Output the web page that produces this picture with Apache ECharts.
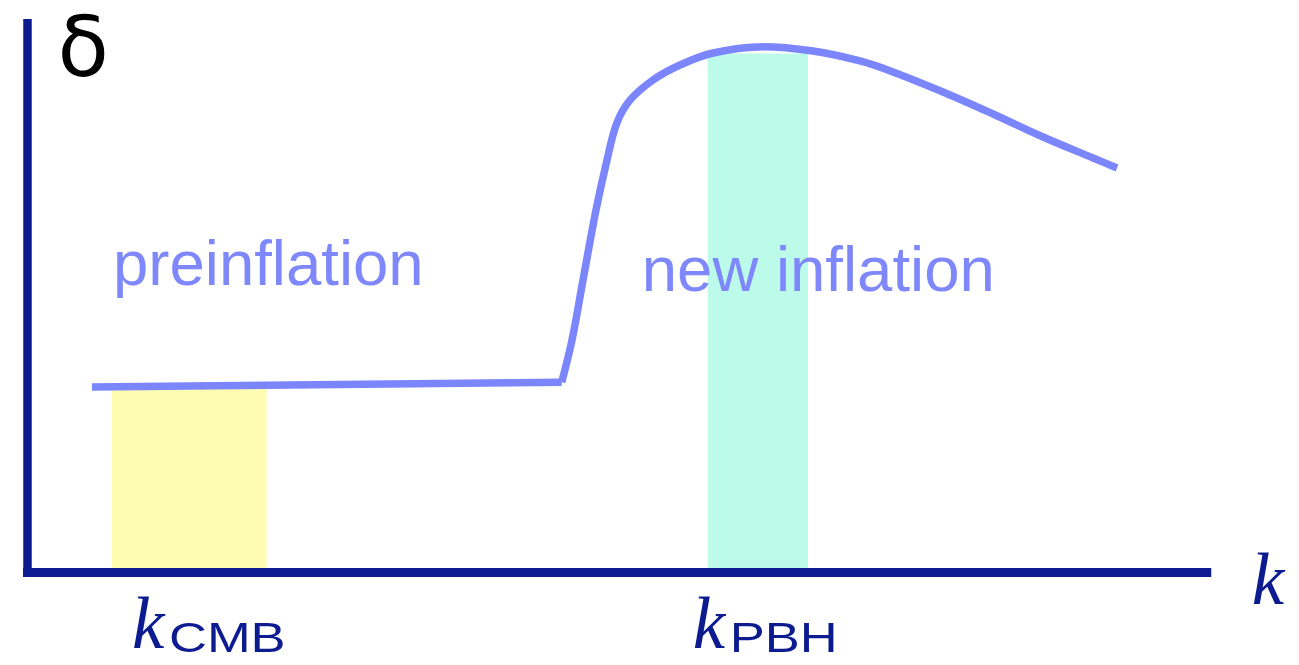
<!DOCTYPE html>
<html>
<head>
<meta charset="utf-8">
<script src="https://cdn.jsdelivr.net/npm/echarts@6/dist/echarts.min.js"></script>
<style>
  html, body { margin: 0; padding: 0; background: #ffffff; }
  #chart { width: 1299px; height: 665px; }
</style>
</head>
<body>
<div id="chart"></div>
<script>
// Power spectrum sketch δ(k): flat plateau from preinflation, then a steep rise
// into the bump produced by new inflation.
const plateauK     = [0.656, 5.436];
const plateauDelta = [3.377, 3.463];

const bumpK     = [5.436, 5.541, 5.653, 5.785, 5.897, 5.996, 6.131, 6.365, 6.640, 6.976, 7.485, 7.993, 8.472, 8.807, 9.316, 9.825, 10.334, 10.843, 11.087];
const bumpDelta = [3.463, 4.233, 5.326, 6.600, 7.510, 8.178, 8.599, 8.967, 9.240, 9.458, 9.573, 9.495, 9.313, 9.113, 8.748, 8.348, 7.929, 7.547, 7.365];

// Scale bands: CMB scales and PBH scales
const bandNames  = ['CMB', 'PBH'];
const bandFrom   = [0.857, 6.923];
const bandTo     = [2.433, 7.942];
const bandTop    = [3.34, 9.45];
const bandColors = ['#fdfcb1', '#bcfbea'];
const bandLabelK = [1.063, 6.770];
const bandLabelDelta = [-1.405, -1.405];

// Region captions, anchored at their left baseline (k, δ)
const regionLabels = ['preinflation', 'new inflation'];
const regionK      = [0.870, 6.251];
const regionDelta  = [5.260, 5.159];

// Axis titles
const xTitle = 'k';
const yTitle = 'δ';
const xTitleAt = [12.457, -0.591];
const yTitleAt = [0.305, 9.060];

const NAVY = '#0c1b8f';
const CURVE = '#7b85fc';
const CAPTION = '#7f88fb';

const chart = echarts.init(document.getElementById('chart'), null, { renderer: 'canvas' });

const axisCommon = {
  type: 'value',
  z: 5,
  axisTick: { show: false },
  axisLabel: { show: false },
  splitLine: { show: false }
};

chart.setOption({
  animation: false,
  backgroundColor: '#ffffff',
  grid: { left: 27.5, top: 23.25, right: 92.25, bottom: 92.5 },
  xAxis: Object.assign({}, axisCommon, {
    min: 0, max: 12,
    axisLine: { show: true, onZero: false, lineStyle: { color: NAVY, width: 9, cap: 'square' } }
  }),
  yAxis: Object.assign({}, axisCommon, {
    min: 0, max: 10,
    axisLine: { show: true, onZero: false, lineStyle: { color: NAVY, width: 8.5, cap: 'square' } }
  }),
  series: [
    {
      name: 'bands',
      type: 'custom',
      z: 1,
      silent: true,
      data: bandNames.map((n, i) => [bandFrom[i], bandTo[i], bandTop[i]]),
      encode: { x: [0, 1], y: 2 },
      renderItem: function (params, api) {
        const i = params.dataIndex;
        const p0 = api.coord([api.value(0), api.value(2)]);
        const p1 = api.coord([api.value(1), 0]);
        return {
          type: 'rect',
          shape: { x: p0[0], y: p0[1], width: p1[0] - p0[0], height: p1[1] - p0[1] },
          style: { fill: bandColors[i] }
        };
      }
    },
    {
      name: 'plateau',
      type: 'line',
      z: 3,
      silent: true,
      showSymbol: false,
      symbol: 'none',
      smooth: false,
      data: plateauK.map((k, i) => [k, plateauDelta[i]]),
      lineStyle: { color: CURVE, width: 7.5, cap: 'butt', join: 'miter' }
    },
    {
      name: 'bump',
      type: 'line',
      z: 3,
      silent: true,
      showSymbol: false,
      symbol: 'none',
      smooth: 0.35,
      data: bumpK.map((k, i) => [k, bumpDelta[i]]),
      lineStyle: { color: CURVE, width: 7.5, cap: 'butt', join: 'round' }
    }
  ]
});

// Text placed on its alphabetic baseline; zrender draws with a middle baseline,
// so the anchor is lifted by a font-dependent fraction of the size.
const toPx = (k, d) => chart.convertToPixel({ gridIndex: 0 }, [k, d]);
const SANS = { family: '"Liberation Sans", Arial, sans-serif', mid: 0.25 };
const SERIF_IT = { family: '"Liberation Serif", "Times New Roman", serif', mid: 0.28, style: 'italic ' };
const GREEK = { family: '"DejaVu Sans", sans-serif', mid: 0.25 };
function baselineText(text, px, face, size, color, extra) {
  return Object.assign({
    type: 'text',
    x: px[0],
    y: px[1] - face.mid * size,
    z: 20,
    silent: true,
    style: {
      text: text,
      font: (face.style || '') + size + 'px ' + face.family,
      fill: color,
      align: 'left',
      verticalAlign: 'middle',
      textAlign: 'left',
      textVerticalAlign: 'middle'
    }
  }, extra || {});
}

const graphics = [];
regionLabels.forEach((t, i) => {
  graphics.push(baselineText(t, toPx(regionK[i], regionDelta[i]), SANS, 63.5, CAPTION));
});
bandNames.forEach((n, i) => {
  const p = toPx(bandLabelK[i], bandLabelDelta[i]);
  graphics.push(baselineText('k', p, SERIF_IT, 73, NAVY));
  graphics.push(baselineText(n, [p[0] + 37, p[1] + 1], SANS, 42, NAVY, { scaleX: 1.25 }));
});
graphics.push(baselineText(xTitle, toPx(xTitleAt[0], xTitleAt[1]), SERIF_IT, 73, NAVY));
graphics.push(baselineText(yTitle, toPx(yTitleAt[0], yTitleAt[1]), GREEK, 84, '#000000'));

chart.setOption({ graphic: { elements: graphics } });
</script>
</body>
</html>
